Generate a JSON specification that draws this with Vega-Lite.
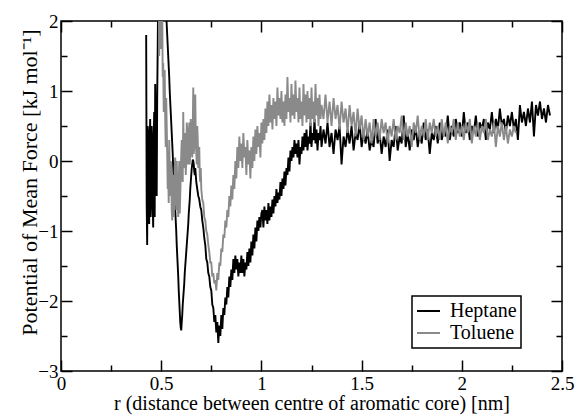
{
"$schema": "https://vega.github.io/schema/vega-lite/v6.json",
"width": 501, "height": 350,
"autosize": {"type": "none"},
"padding": {"left": 61, "top": 21, "right": 14, "bottom": 44},
"background": "white",
"config": {
 "view": {"stroke": "black", "strokeWidth": 1.5},
 "axis": {"domain": false, "grid": false, "labelFont": "Liberation Serif, Times New Roman, serif", "titleFont": "Liberation Serif, Times New Roman, serif", "labelFontSize": 19, "titleFontSize": 20, "labelColor": "black", "titleColor": "black", "titleFontWeight": "normal", "tickColor": "black", "tickWidth": 1.5, "labelFlush": false, "labelOverlap": false, "zindex": 1},
 "legend": {"orient": "none", "legendX": 351, "legendY": 275, "strokeColor": "black", "strokeWidth": 1.5, "fillColor": "white", "padding": 4, "symbolType": "stroke", "symbolSize": 529, "symbolStrokeWidth": 2, "labelFont": "Liberation Serif, Times New Roman, serif", "labelFontSize": 20, "labelColor": "black", "labelOffset": 9, "rowPadding": 0, "clipHeight": 22}
},
"data": {"values": [
{"r":0.425,"Heptane":1.8},{"r":0.4275,"Heptane":-0.6},{"r":0.43,"Heptane":-1.2},{"r":0.4325,"Heptane":0.5},{"r":0.435,"Heptane":0.4},{"r":0.4375,"Heptane":-0.7},{"r":0.44,"Heptane":-0.9},{"r":0.4425,"Heptane":0.3},{"r":0.445,"Heptane":0.6},{"r":0.4475,"Heptane":-0.8},{"r":0.45,"Heptane":-0.5},{"r":0.4525,"Heptane":0.5},{"r":0.455,"Heptane":0.2},{"r":0.4575,"Heptane":-0.6},{"r":0.46,"Heptane":-0.95},{"r":0.4625,"Heptane":0.3},{"r":0.465,"Heptane":0.7},{"r":0.4675,"Heptane":-0.8},{"r":0.47,"Heptane":1.1},{"r":0.4725,"Heptane":0.2},{"r":0.475,"Heptane":-0.3},{"r":0.4775,"Heptane":-0.5},{"r":0.48,"Heptane":0.9},{"r":0.4825,"Heptane":1.6},
{"r":0.485,"Heptane":2.4,"Toluene":2.5},{"r":0.4875,"Heptane":2.5,"Toluene":2.6},{"r":0.49,"Heptane":2.6,"Toluene":1.5},{"r":0.4925,"Heptane":2.5,"Toluene":2.3},{"r":0.495,"Heptane":2.3,"Toluene":2.4},{"r":0.4975,"Heptane":2.5,"Toluene":1.6},{"r":0.5,"Heptane":2.7,"Toluene":1.8},{"r":0.5025,"Heptane":2.5,"Toluene":2.5},{"r":0.505,"Heptane":2.4,"Toluene":2.2},{"r":0.5075,"Heptane":2.5,"Toluene":1.2},{"r":0.51,"Heptane":2.6,"Toluene":1.4},{"r":0.5125,"Heptane":2.5,"Toluene":0.7},{"r":0.515,"Heptane":2.5,"Toluene":1.0},{"r":0.5175,"Heptane":2.5,"Toluene":1.3},{"r":0.52,"Heptane":2.3,"Toluene":0.6},{"r":0.5225,"Heptane":2.5,"Toluene":0.2},{"r":0.525,"Heptane":2.1,"Toluene":0.9},{"r":0.5275,"Heptane":1.95,"Toluene":0.5},{"r":0.53,"Heptane":1.8,"Toluene":0.1},{"r":0.5325,"Heptane":1.65,"Toluene":-0.4},
{"r":0.535,"Heptane":1.5,"Toluene":-0.2},{"r":0.5375,"Heptane":1.35,"Toluene":-0.6},{"r":0.54,"Heptane":1.2,"Toluene":0.3},{"r":0.5425,"Heptane":1.0,"Toluene":-0.1},{"r":0.545,"Heptane":0.85,"Toluene":-0.5},{"r":0.5475,"Heptane":0.7,"Toluene":0.0},{"r":0.55,"Heptane":0.55,"Toluene":-0.1},{"r":0.5525,"Heptane":0.4,"Toluene":-0.7},{"r":0.555,"Heptane":0.25,"Toluene":-0.85},{"r":0.5575,"Heptane":0.1,"Toluene":-0.5},{"r":0.56,"Heptane":-0.1,"Toluene":-0.2},{"r":0.5625,"Heptane":-0.25,"Toluene":-0.8},{"r":0.565,"Heptane":-0.4,"Toluene":-0.6},{"r":0.5675,"Heptane":-0.55,"Toluene":-0.1},{"r":0.57,"Heptane":-0.7,"Toluene":0.05},{"r":0.5725,"Heptane":-0.85,"Toluene":-0.4},{"r":0.575,"Heptane":-1.0,"Toluene":-0.7},{"r":0.5775,"Heptane":-1.2,"Toluene":0.0},{"r":0.58,"Heptane":-1.35,"Toluene":-0.3},{"r":0.5825,"Heptane":-1.5,"Toluene":-0.6},
{"r":0.585,"Heptane":-1.65,"Toluene":-0.8},{"r":0.5875,"Heptane":-1.85,"Toluene":-0.3},{"r":0.59,"Heptane":-2.0,"Toluene":0.0},{"r":0.5925,"Heptane":-2.15,"Toluene":-0.75},{"r":0.595,"Heptane":-2.3,"Toluene":-0.5},{"r":0.5975,"Heptane":-2.38,"Toluene":-0.2},{"r":0.6,"Heptane":-2.42,"Toluene":0.1},{"r":0.6025,"Heptane":-2.3,"Toluene":0.3},{"r":0.605,"Heptane":-2.2,"Toluene":-0.2},{"r":0.6075,"Heptane":-2.05,"Toluene":-0.3},{"r":0.61,"Heptane":-1.95,"Toluene":0.7},{"r":0.6125,"Heptane":-1.85,"Toluene":0.1},{"r":0.615,"Heptane":-1.75,"Toluene":-0.1},{"r":0.6175,"Heptane":-1.6,"Toluene":0.4},{"r":0.62,"Heptane":-1.5,"Toluene":0.3},{"r":0.6225,"Heptane":-1.4,"Toluene":-0.2},{"r":0.625,"Heptane":-1.3,"Toluene":0.0},{"r":0.6275,"Heptane":-1.2,"Toluene":0.55},{"r":0.63,"Heptane":-1.1,"Toluene":0.45},{"r":0.6325,"Heptane":-1.0,"Toluene":0.0},
{"r":0.635,"Heptane":-0.9,"Toluene":-0.05},{"r":0.6375,"Heptane":-0.75,"Toluene":0.3},{"r":0.64,"Heptane":-0.65,"Toluene":0.55},{"r":0.6425,"Heptane":-0.55,"Toluene":-0.05},{"r":0.645,"Heptane":-0.4,"Toluene":0.1},{"r":0.6475,"Heptane":-0.3,"Toluene":0.6},{"r":0.65,"Heptane":-0.2,"Toluene":0.4},{"r":0.6525,"Heptane":-0.1,"Toluene":0.2},{"r":0.655,"Heptane":-0.05,"Toluene":0.05},{"r":0.6575,"Heptane":0.02,"Toluene":0.5},{"r":0.66,"Heptane":0.0,"Toluene":1.05},{"r":0.6625,"Heptane":-0.05,"Toluene":0.1},{"r":0.665,"Heptane":-0.15,"Toluene":0.2},{"r":0.6675,"Heptane":-0.2,"Toluene":0.6},{"r":0.67,"Heptane":-0.1,"Toluene":0.95},{"r":0.6725,"Heptane":-0.2,"Toluene":0.35},{"r":0.675,"Heptane":-0.3,"Toluene":0.1},{"r":0.6775,"Heptane":-0.35,"Toluene":-0.05},{"r":0.68,"Heptane":-0.4,"Toluene":0.5},{"r":0.6825,"Heptane":-0.45,"Toluene":0.3},
{"r":0.685,"Heptane":-0.5,"Toluene":-0.1},{"r":0.6875,"Heptane":-0.52,"Toluene":0.1},{"r":0.69,"Heptane":-0.55,"Toluene":0.2},{"r":0.6925,"Heptane":-0.6,"Toluene":-0.2},{"r":0.695,"Heptane":-0.65,"Toluene":-0.3},{"r":0.6975,"Heptane":-0.68,"Toluene":-0.1},{"r":0.7,"Heptane":-0.7,"Toluene":-0.4},{"r":0.705,"Heptane":-0.85,"Toluene":-0.55},{"r":0.71,"Heptane":-0.95,"Toluene":-0.6},{"r":0.715,"Heptane":-1.1,"Toluene":-0.8},{"r":0.72,"Heptane":-1.2,"Toluene":-0.85},{"r":0.725,"Heptane":-1.4,"Toluene":-1.0},{"r":0.73,"Heptane":-1.45,"Toluene":-1.05},
{"r":0.735,"Heptane":-1.6,"Toluene":-1.2},{"r":0.74,"Heptane":-1.65,"Toluene":-1.3},{"r":0.745,"Heptane":-1.8,"Toluene":-1.45},{"r":0.75,"Heptane":-1.85,"Toluene":-1.45},{"r":0.755,"Heptane":-2.05,"Toluene":-1.65},{"r":0.76,"Heptane":-2.1,"Toluene":-1.6},{"r":0.765,"Heptane":-2.3,"Toluene":-1.75},{"r":0.77,"Heptane":-2.2,"Toluene":-1.7},{"r":0.775,"Heptane":-2.45,"Toluene":-1.85},{"r":0.78,"Heptane":-2.3,"Toluene":-1.6},
{"r":0.785,"Heptane":-2.6,"Toluene":-1.7},{"r":0.79,"Heptane":-2.35,"Toluene":-1.45},{"r":0.795,"Heptane":-2.5,"Toluene":-1.5},{"r":0.8,"Heptane":-2.2,"Toluene":-1.25},{"r":0.805,"Heptane":-2.4,"Toluene":-1.3},{"r":0.81,"Heptane":-2.1,"Toluene":-1.05},{"r":0.815,"Heptane":-2.2,"Toluene":-1.1},{"r":0.82,"Heptane":-1.95,"Toluene":-0.85},{"r":0.825,"Heptane":-2.05,"Toluene":-0.95},{"r":0.83,"Heptane":-1.8,"Toluene":-0.7},
{"r":0.835,"Heptane":-1.95,"Toluene":-0.8},{"r":0.84,"Heptane":-1.65,"Toluene":-0.5},{"r":0.845,"Heptane":-1.8,"Toluene":-0.65},{"r":0.85,"Heptane":-1.55,"Toluene":-0.35},{"r":0.855,"Heptane":-1.7,"Toluene":-0.55},{"r":0.86,"Heptane":-1.4,"Toluene":-0.2},{"r":0.865,"Heptane":-1.6,"Toluene":-0.4},{"r":0.87,"Heptane":-1.35,"Toluene":0.0},{"r":0.875,"Heptane":-1.55,"Toluene":-0.25},{"r":0.88,"Heptane":-1.4,"Toluene":0.2},
{"r":0.885,"Heptane":-1.65,"Toluene":-0.1},{"r":0.89,"Heptane":-1.45,"Toluene":0.35},{"r":0.895,"Heptane":-1.6,"Toluene":0.0},{"r":0.9,"Heptane":-1.35,"Toluene":0.25},{"r":0.905,"Heptane":-1.6,"Toluene":-0.1},{"r":0.91,"Heptane":-1.4,"Toluene":0.4},{"r":0.915,"Heptane":-1.65,"Toluene":0.05},{"r":0.92,"Heptane":-1.45,"Toluene":0.2},{"r":0.925,"Heptane":-1.55,"Toluene":-0.2},{"r":0.93,"Heptane":-1.3,"Toluene":0.3},
{"r":0.935,"Heptane":-1.5,"Toluene":-0.05},{"r":0.94,"Heptane":-1.25,"Toluene":0.15},{"r":0.945,"Heptane":-1.45,"Toluene":-0.25},{"r":0.95,"Heptane":-1.15,"Toluene":0.2},{"r":0.955,"Heptane":-1.35,"Toluene":-0.1},{"r":0.96,"Heptane":-1.05,"Toluene":0.35},{"r":0.965,"Heptane":-1.25,"Toluene":0.0},{"r":0.97,"Heptane":-0.95,"Toluene":0.45},{"r":0.975,"Heptane":-1.15,"Toluene":0.1},{"r":0.98,"Heptane":-0.85,"Toluene":0.5},
{"r":0.985,"Heptane":-1.0,"Toluene":0.2},{"r":0.99,"Heptane":-0.8,"Toluene":0.4},{"r":0.995,"Heptane":-0.95,"Toluene":0.05},{"r":1.0,"Heptane":-0.75,"Toluene":0.55},{"r":1.005,"Heptane":-0.7,"Toluene":0.25},{"r":1.01,"Heptane":-0.95,"Toluene":0.6},{"r":1.015,"Heptane":-0.65,"Toluene":0.3},{"r":1.02,"Heptane":-0.85,"Toluene":0.75},{"r":1.025,"Heptane":-0.7,"Toluene":0.4},{"r":1.03,"Heptane":-0.9,"Toluene":0.85},
{"r":1.035,"Heptane":-0.6,"Toluene":0.5},{"r":1.04,"Heptane":-0.85,"Toluene":0.95},{"r":1.045,"Heptane":-0.65,"Toluene":0.55},{"r":1.05,"Heptane":-0.8,"Toluene":0.8},{"r":1.055,"Heptane":-0.55,"Toluene":0.45},{"r":1.06,"Heptane":-0.75,"Toluene":0.9},{"r":1.065,"Heptane":-0.5,"Toluene":0.6},{"r":1.07,"Heptane":-0.65,"Toluene":0.85},{"r":1.075,"Heptane":-0.4,"Toluene":0.5},{"r":1.08,"Heptane":-0.6,"Toluene":1.05},
{"r":1.085,"Heptane":-0.45,"Toluene":0.65},{"r":1.09,"Heptane":-0.55,"Toluene":0.9},{"r":1.095,"Heptane":-0.3,"Toluene":0.6},{"r":1.1,"Heptane":-0.5,"Toluene":1.0},{"r":1.105,"Heptane":-0.25,"Toluene":0.55},{"r":1.11,"Heptane":-0.4,"Toluene":0.85},{"r":1.115,"Heptane":-0.15,"Toluene":0.5},{"r":1.12,"Heptane":-0.35,"Toluene":0.95},{"r":1.125,"Heptane":-0.1,"Toluene":0.6},{"r":1.13,"Heptane":-0.2,"Toluene":1.2},
{"r":1.135,"Heptane":0.05,"Toluene":0.7},{"r":1.14,"Heptane":-0.15,"Toluene":0.9},{"r":1.145,"Heptane":0.15,"Toluene":0.55},{"r":1.15,"Heptane":0.0,"Toluene":1.1},{"r":1.155,"Heptane":0.2,"Toluene":0.65},{"r":1.16,"Heptane":0.05,"Toluene":0.95},{"r":1.165,"Heptane":0.3,"Toluene":0.6},{"r":1.17,"Heptane":0.1,"Toluene":1.15},{"r":1.175,"Heptane":0.25,"Toluene":0.7},{"r":1.18,"Heptane":0.05,"Toluene":0.9},
{"r":1.185,"Heptane":0.3,"Toluene":0.55},{"r":1.19,"Heptane":-0.05,"Toluene":1.05},{"r":1.195,"Heptane":0.2,"Toluene":0.6},{"r":1.2,"Heptane":0.1,"Toluene":0.85},{"r":1.205,"Heptane":0.35,"Toluene":0.5},{"r":1.21,"Heptane":0.15,"Toluene":1.1},{"r":1.215,"Heptane":0.4,"Toluene":0.65},{"r":1.22,"Heptane":0.2,"Toluene":0.95},{"r":1.225,"Heptane":0.45,"Toluene":0.55},{"r":1.23,"Heptane":0.15,"Toluene":1.0},
{"r":1.235,"Heptane":0.35,"Toluene":0.6},{"r":1.24,"Heptane":0.25,"Toluene":0.9},{"r":1.245,"Heptane":0.55,"Toluene":0.5},{"r":1.25,"Heptane":0.2,"Toluene":1.05},{"r":1.255,"Heptane":0.4,"Toluene":0.6},{"r":1.26,"Heptane":0.3,"Toluene":0.85},{"r":1.265,"Heptane":0.6,"Toluene":0.55},{"r":1.27,"Heptane":0.25,"Toluene":1.1},{"r":1.275,"Heptane":0.45,"Toluene":0.65},{"r":1.28,"Heptane":0.15,"Toluene":0.9},
{"r":1.285,"Heptane":0.4,"Toluene":0.5},{"r":1.29,"Heptane":0.3,"Toluene":0.95},{"r":1.295,"Heptane":0.5,"Toluene":0.6},{"r":1.3,"Heptane":0.2,"Toluene":0.8},
{"r":1.31,"Heptane":0.45,"Toluene":0.6},{"r":1.32,"Heptane":0.25,"Toluene":0.95},{"r":1.33,"Heptane":0.55,"Toluene":0.55},{"r":1.34,"Heptane":0.2,"Toluene":0.85},{"r":1.35,"Heptane":0.4,"Toluene":0.5},{"r":1.36,"Heptane":0.1,"Toluene":0.9},{"r":1.37,"Heptane":0.45,"Toluene":0.6},{"r":1.38,"Heptane":0.3,"Toluene":0.8},{"r":1.39,"Heptane":0.5,"Toluene":0.45},{"r":1.4,"Heptane":-0.05,"Toluene":0.85},
{"r":1.41,"Heptane":0.35,"Toluene":0.55},{"r":1.42,"Heptane":0.2,"Toluene":0.75},{"r":1.43,"Heptane":0.45,"Toluene":0.4},{"r":1.44,"Heptane":0.25,"Toluene":0.8},{"r":1.45,"Heptane":0.5,"Toluene":0.5},{"r":1.46,"Heptane":0.15,"Toluene":0.7},{"r":1.47,"Heptane":0.4,"Toluene":0.35},{"r":1.48,"Heptane":0.3,"Toluene":0.75},{"r":1.49,"Heptane":0.55,"Toluene":0.45},{"r":1.5,"Heptane":0.2,"Toluene":0.65},
{"r":1.51,"Heptane":0.4,"Toluene":0.3},{"r":1.52,"Heptane":0.25,"Toluene":0.6},{"r":1.53,"Heptane":0.45,"Toluene":0.35},{"r":1.54,"Heptane":0.15,"Toluene":0.55},{"r":1.55,"Heptane":0.3,"Toluene":0.25},{"r":1.56,"Heptane":0.2,"Toluene":0.6},{"r":1.57,"Heptane":0.6,"Toluene":0.35},{"r":1.58,"Heptane":0.25,"Toluene":0.55},{"r":1.59,"Heptane":0.4,"Toluene":0.3},{"r":1.6,"Heptane":0.1,"Toluene":0.6},
{"r":1.61,"Heptane":0.35,"Toluene":0.4},{"r":1.62,"Heptane":0.2,"Toluene":0.55},{"r":1.63,"Heptane":0.45,"Toluene":0.25},{"r":1.64,"Heptane":0.0,"Toluene":0.5},{"r":1.65,"Heptane":0.3,"Toluene":0.35},{"r":1.66,"Heptane":0.2,"Toluene":0.6},{"r":1.67,"Heptane":0.5,"Toluene":0.3},{"r":1.68,"Heptane":0.15,"Toluene":0.5},{"r":1.69,"Heptane":0.35,"Toluene":0.4},{"r":1.7,"Heptane":0.25,"Toluene":0.65},
{"r":1.71,"Heptane":0.65,"Toluene":0.3},{"r":1.72,"Heptane":0.2,"Toluene":0.55},{"r":1.73,"Heptane":0.4,"Toluene":0.35},{"r":1.74,"Heptane":0.15,"Toluene":0.5},{"r":1.75,"Heptane":0.45,"Toluene":0.2},{"r":1.76,"Heptane":0.3,"Toluene":0.55},{"r":1.77,"Heptane":0.5,"Toluene":0.4},{"r":1.78,"Heptane":0.2,"Toluene":0.65},{"r":1.79,"Heptane":0.4,"Toluene":0.3},{"r":1.8,"Heptane":0.25,"Toluene":0.5},
{"r":1.81,"Heptane":0.55,"Toluene":0.35},{"r":1.82,"Heptane":0.3,"Toluene":0.6},{"r":1.83,"Heptane":0.45,"Toluene":0.3},{"r":1.84,"Heptane":0.1,"Toluene":0.55},{"r":1.85,"Heptane":0.4,"Toluene":0.4},{"r":1.86,"Heptane":0.3,"Toluene":0.6},{"r":1.87,"Heptane":0.5,"Toluene":0.35},{"r":1.88,"Heptane":0.25,"Toluene":0.5},{"r":1.89,"Heptane":0.55,"Toluene":0.3},{"r":1.9,"Heptane":0.3,"Toluene":0.6},
{"r":1.91,"Heptane":0.45,"Toluene":0.35},{"r":1.92,"Heptane":0.35,"Toluene":0.55},{"r":1.93,"Heptane":0.65,"Toluene":0.25},{"r":1.94,"Heptane":0.3,"Toluene":0.5},{"r":1.95,"Heptane":0.5,"Toluene":0.4},{"r":1.96,"Heptane":0.35,"Toluene":0.6},{"r":1.97,"Heptane":0.6,"Toluene":0.3},{"r":1.98,"Heptane":0.4,"Toluene":0.55},{"r":1.99,"Heptane":0.55,"Toluene":0.35},{"r":2.0,"Heptane":0.35,"Toluene":0.5},
{"r":2.01,"Heptane":0.7,"Toluene":0.3},{"r":2.02,"Heptane":0.4,"Toluene":0.55},{"r":2.03,"Heptane":0.55,"Toluene":0.4},{"r":2.04,"Heptane":0.3,"Toluene":0.6},{"r":2.05,"Heptane":0.5,"Toluene":0.25},{"r":2.06,"Heptane":0.4,"Toluene":0.5},{"r":2.07,"Heptane":0.65,"Toluene":0.35},{"r":2.08,"Heptane":0.35,"Toluene":0.55},{"r":2.09,"Heptane":0.55,"Toluene":0.3},{"r":2.1,"Heptane":0.45,"Toluene":0.5},
{"r":2.11,"Heptane":0.6,"Toluene":0.4},{"r":2.12,"Heptane":0.3,"Toluene":0.6},{"r":2.13,"Heptane":0.55,"Toluene":0.3},{"r":2.14,"Heptane":0.45,"Toluene":0.45},{"r":2.15,"Heptane":0.7,"Toluene":0.35},{"r":2.16,"Heptane":0.4,"Toluene":0.55},{"r":2.17,"Heptane":0.6,"Toluene":0.2},{"r":2.18,"Heptane":0.45,"Toluene":0.5},{"r":2.19,"Heptane":0.75,"Toluene":0.35},{"r":2.2,"Heptane":0.5,"Toluene":0.55},
{"r":2.21,"Heptane":0.6,"Toluene":0.3},{"r":2.22,"Heptane":0.4,"Toluene":0.5},{"r":2.23,"Heptane":0.65,"Toluene":0.25},{"r":2.24,"Heptane":0.5,"Toluene":0.45},{"r":2.25,"Heptane":0.7,"Toluene":0.35},{"r":2.26,"Heptane":0.45,"Toluene":0.5},{"r":2.27,"Heptane":0.6,"Toluene":0.4},
{"r":2.28,"Heptane":0.3},{"r":2.29,"Heptane":0.8},{"r":2.3,"Heptane":0.55},{"r":2.31,"Heptane":0.7},{"r":2.32,"Heptane":0.5},{"r":2.33,"Heptane":0.75},{"r":2.34,"Heptane":0.55},{"r":2.35,"Heptane":0.85},{"r":2.36,"Heptane":0.35},{"r":2.37,"Heptane":0.8},
{"r":2.38,"Heptane":0.65},{"r":2.39,"Heptane":0.85},{"r":2.4,"Heptane":0.6},{"r":2.41,"Heptane":0.75},{"r":2.42,"Heptane":0.55},{"r":2.43,"Heptane":0.8},{"r":2.44,"Heptane":0.65}
]},
"transform": [{"fold": ["Heptane", "Toluene"], "as": ["series", "pmf"]}, {"filter": "isValid(datum.pmf)"}],
"layer": [
 {
  "transform": [{"filter": "datum.series === 'Heptane'"}],
  "mark": {"type": "line", "clip": true, "strokeWidth": 1.9},
  "encoding": {
   "x": {"field": "r", "type": "quantitative", "scale": {"domain": [0, 2.5], "nice": false, "zero": false},
    "axis": {"orient": "bottom", "title": "r (distance between centre of aromatic core) [nm]", "values": [0,0.5,1,1.5,2,2.5], "format": "~g", "offset": -11, "tickSize": 11, "labelPadding": 3, "titlePadding": 0}},
   "y": {"field": "pmf", "type": "quantitative", "scale": {"domain": [-3, 2], "nice": false, "zero": false},
    "axis": {"orient": "left", "title": "Potential of Mean Force [kJ mol⁻¹]", "titleFontSize": 22, "titleY": 161, "values": [-3,-2,-1,0,1,2], "format": "~g", "offset": -11, "tickSize": 11, "labelPadding": 3, "titlePadding": -4}},
   "color": {"field": "series", "type": "nominal", "scale": {"domain": ["Heptane", "Toluene"], "range": ["black", "#8a8a8a"]}, "legend": {"title": null}}
  }
 },
 {
  "transform": [{"filter": "datum.series === 'Toluene'"}],
  "mark": {"type": "line", "clip": true, "strokeWidth": 1.9},
  "encoding": {
   "x": {"field": "r", "type": "quantitative", "scale": {"domain": [0, 2.5], "nice": false, "zero": false},
    "axis": {"orient": "top", "title": null, "labels": false, "values": [0,0.5,1,1.5,2,2.5], "offset": -11, "tickSize": 11}},
   "y": {"field": "pmf", "type": "quantitative", "scale": {"domain": [-3, 2], "nice": false, "zero": false},
    "axis": {"orient": "right", "title": null, "labels": false, "values": [-3,-2,-1,0,1,2], "offset": -11, "tickSize": 11}},
   "color": {"field": "series", "type": "nominal", "scale": {"domain": ["Heptane", "Toluene"], "range": ["black", "#8a8a8a"]}, "legend": {"title": null}}
  }
 },
 {
  "transform": [{"filter": "datum.series === 'Heptane'"}],
  "mark": {"type": "line", "clip": true, "opacity": 0},
  "encoding": {
   "x": {"field": "r", "type": "quantitative", "scale": {"domain": [0, 2.5], "nice": false, "zero": false},
    "axis": {"orient": "bottom", "title": null, "labels": false, "values": [0.25,0.75,1.25,1.75,2.25], "offset": -6, "tickSize": 6}},
   "y": {"field": "pmf", "type": "quantitative", "scale": {"domain": [-3, 2], "nice": false, "zero": false},
    "axis": {"orient": "left", "title": null, "labels": false, "values": [-2.5,-1.5,-0.5,0.5,1.5], "offset": -6, "tickSize": 6}}
  }
 },
 {
  "transform": [{"filter": "datum.series === 'Heptane'"}],
  "mark": {"type": "line", "clip": true, "opacity": 0},
  "encoding": {
   "x": {"field": "r", "type": "quantitative", "scale": {"domain": [0, 2.5], "nice": false, "zero": false},
    "axis": {"orient": "top", "title": null, "labels": false, "values": [0.25,0.75,1.25,1.75,2.25], "offset": -6, "tickSize": 6}},
   "y": {"field": "pmf", "type": "quantitative", "scale": {"domain": [-3, 2], "nice": false, "zero": false},
    "axis": {"orient": "right", "title": null, "labels": false, "values": [-2.5,-1.5,-0.5,0.5,1.5], "offset": -6, "tickSize": 6}}
  }
 }
],
"resolve": {"axis": {"x": "independent", "y": "independent"}}
}
